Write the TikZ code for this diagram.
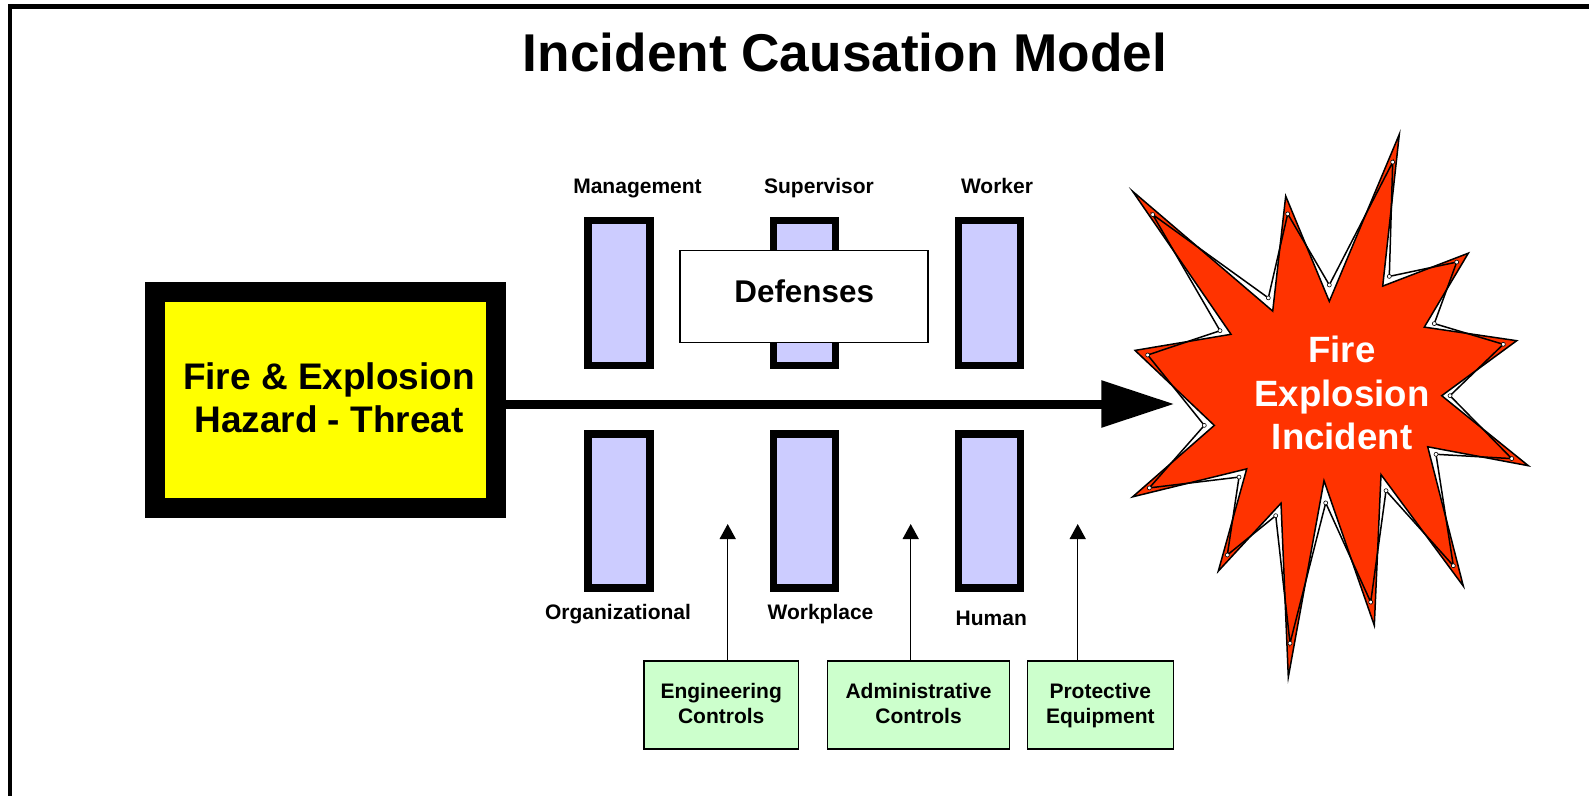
\documentclass[tikz,border=0pt]{standalone}
\usepackage{fontspec}
\setmainfont{Liberation Sans}
\usetikzlibrary{arrows.meta}
\definecolor{barblue}{HTML}{CCCCFF}
\definecolor{ctrlgreen}{HTML}{CCFFCC}
\definecolor{hazyellow}{HTML}{FFFF00}
\definecolor{firered}{HTML}{FF3300}
\begin{document}
\begin{tikzpicture}[x=0.5pt,y=-0.5pt,
  every node/.style={inner sep=0pt, outer sep=0pt},
  bar/.style={draw=black, line width=3.75pt, fill=barblue, minimum width=31pt},
  topbar/.style={bar, minimum height=72.5pt},
  botbar/.style={bar, minimum height=77pt},
  lbl/.style={anchor=base, font=\bfseries\fontsize{10.5pt}{12pt}\selectfont},
  ctrl/.style={draw=black, line width=0.75pt, fill=ctrlgreen, minimum height=44pt, align=center, text depth=1.5pt, font=\bfseries\fontsize{10.5pt}{12.2pt}\selectfont},
  ctrlarrow/.style={-{Triangle[length=7.5pt,width=8pt]}, line width=0.75pt},
  burstline/.style={draw=black, line width=0.75pt, line join=miter},
]
\useasboundingbox (0,0) rectangle (1589,796);
\fill[white] (0,0) rectangle (1589,796);
% frame
\draw[line width=2.25pt, line join=miter] (10,810) -- (10,6.5) -- (1600,6.5);

% title
\node[anchor=base, font=\bfseries\fontsize{26.6pt}{30pt}\selectfont] (title) at (845,72) {Incident Causation Model};

% hazard
\node[draw=black, line width=10pt, fill=hazyellow, minimum width=170.5pt, minimum height=108pt] (haz) at (325.5,400) {};
\node[align=center, font=\bfseries\fontsize{18.5pt}{21.7pt}\selectfont] (haztext) at (329,397.5) {Fire \& Explosion\\Hazard - Threat};

% bars
\node[topbar] (mgmt) at (619,293) {};
\node[topbar] (sup) at (804.6,293) {};
\node[topbar] (wrk) at (989.7,293) {};
\node[botbar] (org) at (619,511) {};
\node[botbar] (wpl) at (804.3,511) {};
\node[botbar] (hum) at (989.7,511) {};

% defenses
\node[draw=black, line width=0.75pt, fill=white, minimum width=124pt, minimum height=46pt, text depth=6pt,
      font=\bfseries\fontsize{15.7pt}{18pt}\selectfont] (def) at (804.2,296.7) {Defenses};

% labels
\node[lbl] (lmgmt) at (637.5,193.3) {Management};
\node[lbl] (lsup) at (819,193.3) {Supervisor};
\node[lbl] (lwrk) at (997,193.3) {Worker};
\node[lbl] (lorg) at (618,619.5) {Organizational};
\node[lbl] (lwpl) at (820.5,619.3) {Workplace};
\node[lbl] (lhum) at (991.3,625) {Human};

% starburst
\path[fill=firered, burstline]
 (1399.3,134.3) -- (1382.7,286.1) -- (1468.3,253.2) -- (1424.3,327.1) -- (1516.7,340.7) -- (1441.7,395.7)
 -- (1528.3,465.7) -- (1427.7,446.8) -- (1463.3,586.1) -- (1381,474.6) -- (1374.3,625.4) -- (1324,480.7)
 -- (1288.3,677.1) -- (1281,503.2) -- (1218.3,571.1) -- (1246.7,468.9) -- (1132.7,496.8) -- (1214.3,425.4)
 -- (1135,350.4) -- (1231,334.3) -- (1132.7,191.4) -- (1272.7,311.1) -- (1285.7,196.1) -- (1329.3,301.4) -- cycle;
\path[burstline]
 (1392.7,162.1) -- (1389.3,276.4) -- (1456.7,262.1) -- (1434.3,323.6) -- (1503.3,344.3) -- (1450,395.7)
 -- (1511.7,458.6) -- (1436,454.3) -- (1453.3,565.7) -- (1386,490.7) -- (1370.7,602.1) -- (1325.7,502.9)
 -- (1290,643.2) -- (1275.7,515.7) -- (1227.3,555) -- (1239,477.1) -- (1149.3,487.9) -- (1204.3,425.4)
 -- (1147.7,355) -- (1220,330.7) -- (1152.7,214.6) -- (1268.3,297.9) -- (1287.7,213.9) -- (1329.3,285) -- cycle;
\foreach \p in {(1392.7,162.1),(1389.3,276.4),(1456.7,262.1),(1434.3,323.6),(1503.3,344.3),(1450,395.7),
 (1511.7,458.6),(1436,454.3),(1453.3,565.7),(1386,490.7),(1370.7,602.1),(1325.7,502.9),
 (1290,643.2),(1275.7,515.7),(1227.3,555),(1239,477.1),(1149.3,487.9),(1204.3,425.4),
 (1147.7,355),(1220,330.7),(1152.7,214.6),(1268.3,297.9),(1287.7,213.9),(1329.3,285)}
  \filldraw[fill=white, draw=black, line width=0.3pt] \p circle (2);
\node[align=center, text=white, font=\bfseries\fontsize{18.3pt}{21.6pt}\selectfont] (burst) at (1342,393) {Fire\\Explosion\\Incident};

% main arrow
\coordinate (tip) at (1174.3,404);
\draw[line width=4.5pt, -{Triangle[length=36.5pt,width=22.5pt]}] (haz.east |- tip) -- (tip);

% controls
\node[ctrl, minimum width=77.2pt] (eng) at (721.2,705) {Engineering\\Controls};
\node[ctrl, minimum width=90.8pt] (adm) at (918.5,705) {Administrative\\Controls};
\node[ctrl, minimum width=73pt] (ppe) at (1100.3,705) {Protective\\Equipment};

\coordinate (etip) at (727.7,524);
\coordinate (atip) at (910.7,524);
\coordinate (ptip) at (1077.7,524);
\draw[ctrlarrow] (etip |- eng.north) -- (etip);
\draw[ctrlarrow] (atip |- adm.north) -- (atip);
\draw[ctrlarrow] (ptip |- ppe.north) -- (ptip);
\end{tikzpicture}
\end{document}
